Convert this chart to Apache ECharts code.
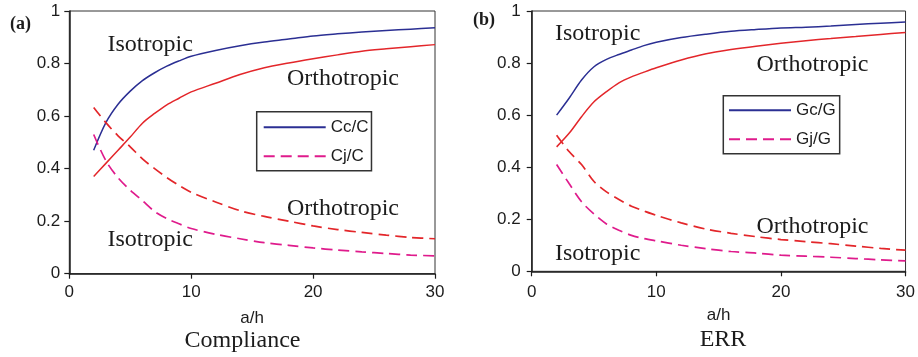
<!DOCTYPE html>
<html>
<head>
<meta charset="utf-8">
<title>Compliance and ERR ratios vs a/h</title>
<script src="https://cdn.jsdelivr.net/npm/echarts@6/dist/echarts.min.js"></script>
<style>
  html, body { margin: 0; padding: 0; background: #fff; }
  #chart { width: 918px; height: 357px; }
</style>
</head>
<body>
<div id="chart"></div>
<script>
// a/h sample positions shared by both panels
const aOverH = [2, 3, 4, 5, 6, 7, 8, 9, 10, 12, 14, 16, 18, 20, 22, 24, 26, 28, 30];

// (a) Compliance ratios
const ccIso   = [0.47, 0.575, 0.645, 0.695, 0.735, 0.765, 0.79, 0.81, 0.828, 0.85, 0.868, 0.882, 0.893, 0.905, 0.913, 0.92, 0.926, 0.931, 0.936];
const ccOrtho = [0.37, 0.42, 0.47, 0.52, 0.573, 0.61, 0.643, 0.668, 0.692, 0.725, 0.758, 0.784, 0.802, 0.818, 0.833, 0.847, 0.856, 0.864, 0.872];
const cjOrtho = [0.633, 0.575, 0.525, 0.483, 0.437, 0.40, 0.366, 0.336, 0.31, 0.273, 0.24, 0.218, 0.2, 0.182, 0.168, 0.157, 0.147, 0.138, 0.133];
const cjIso   = [0.53, 0.43, 0.365, 0.318, 0.278, 0.237, 0.21, 0.19, 0.172, 0.15, 0.133, 0.118, 0.108, 0.098, 0.09, 0.083, 0.077, 0.071, 0.068];

// (b) Energy release rate ratios
const gcIso   = [0.60, 0.665, 0.735, 0.786, 0.814, 0.833, 0.85, 0.867, 0.88, 0.898, 0.911, 0.922, 0.929, 0.935, 0.938, 0.942, 0.948, 0.953, 0.958];
const gcOrtho = [0.478, 0.53, 0.594, 0.651, 0.69, 0.724, 0.747, 0.765, 0.782, 0.812, 0.836, 0.852, 0.865, 0.876, 0.886, 0.894, 0.902, 0.91, 0.917];
const gjOrtho = [0.523, 0.46, 0.41, 0.345, 0.305, 0.276, 0.25, 0.232, 0.215, 0.186, 0.162, 0.146, 0.133, 0.122, 0.114, 0.106, 0.097, 0.088, 0.081];
const gjIso   = [0.41, 0.337, 0.267, 0.22, 0.182, 0.158, 0.138, 0.126, 0.117, 0.10, 0.087, 0.076, 0.07, 0.062, 0.058, 0.054, 0.049, 0.044, 0.04];

const BLUE = '#2b2f93';
const RED = '#e3262a';
const MAGENTA = '#df1b8c';
const INK = '#1c1c1c';
const SANS = '"Liberation Sans", Arial, sans-serif';
const SERIF = '"Liberation Serif", "Times New Roman", serif';

function pairs(ys) { return aOverH.map((x, i) => [x, ys[i]]); }

function lineSeries(name, idx, ys, color, dashed) {
  return {
    name: name,
    type: 'line',
    xAxisIndex: idx,
    yAxisIndex: idx,
    data: pairs(ys),
    showSymbol: false,
    symbol: 'none',
    smooth: 0.3,
    silent: true,
    lineStyle: { color: color, width: dashed ? 1.7 : 1.5, type: dashed ? [11, 6] : 'solid' },
    itemStyle: { color: color },
    z: 3
  };
}

function xAxisFor(idx, labelMargin) {
  return {
    type: 'value', gridIndex: idx, min: 0, max: 30, interval: 10,
    name: 'a/h', nameLocation: 'middle', nameGap: 36,
    nameTextStyle: { fontFamily: SANS, fontSize: 17, color: INK },
    axisLine: { show: true, onZero: false, lineStyle: { color: INK, width: 1.5 } },
    axisTick: { show: true, inside: false, length: 5, lineStyle: { color: INK, width: 1.2 } },
    axisLabel: { fontFamily: SANS, fontSize: 17, color: INK, margin: labelMargin },
    splitLine: { show: false }
  };
}

function yAxisFor(idx, labelMargin) {
  return {
    type: 'value', gridIndex: idx, min: 0, max: 1, interval: 0.2,
    axisLine: { show: true, lineStyle: { color: INK, width: 1.5 } },
    axisTick: { show: true, inside: false, length: 5, lineStyle: { color: INK, width: 1.2 } },
    axisLabel: { fontFamily: SANS, fontSize: 17, color: INK, margin: labelMargin },
    splitLine: { show: false }
  };
}

function legendFor(names, left, top, padding) {
  return {
    data: names,
    orient: 'vertical',
    left: left, top: top,
    padding: padding,
    itemWidth: 62, itemHeight: 14, itemGap: 12,
    selectedMode: false,
    borderColor: '#333', borderWidth: 1.5, borderRadius: 0,
    backgroundColor: '#fff',
    // only the line sample is shown for each entry
    itemStyle: { opacity: 0, color: 'rgba(0,0,0,0)', borderWidth: 0 },
    textStyle: { fontFamily: SANS, fontSize: 17, color: INK, padding: [0, 0, 0, 0] }
  };
}

function caption(text, x, y, size, bold) {
  return {
    type: 'text', silent: true, z: 10,
    style: {
      text: text, x: x, y: y, fill: INK,
      font: (bold ? 'bold ' : '') + size + 'px ' + SERIF,
      textVerticalAlign: 'middle'
    }
  };
}

function centered(text, x, y, size) {
  const g = caption(text, x, y, size, false);
  g.style.textAlign = 'center';
  return g;
}

const option = {
  animation: false,
  backgroundColor: '#fff',
  grid: [
    { left: 69.3, top: 11, width: 365.7, height: 262.7, show: true, borderColor: '#333', borderWidth: 1 },
    { left: 531.7, top: 11, width: 375, height: 260.3, show: true, borderColor: '#333', borderWidth: 1 }
  ],
  xAxis: [xAxisFor(0, 10), xAxisFor(1, 13)],
  yAxis: [yAxisFor(0, 9), yAxisFor(1, 11)],
  legend: [
    legendFor(['Cc/C', 'Cj/C'], 256.7, 111.7, [7, 3, 6, 6]),
    legendFor(['Gc/G', 'Gj/G'], 723.3, 95.7, [6, 4, 6, 4.7])
  ],
  series: [
    lineSeries('Cc/C', 0, ccIso, BLUE, false),
    lineSeries('Cc/C orthotropic', 0, ccOrtho, RED, false),
    lineSeries('Cj/C orthotropic', 0, cjOrtho, RED, true),
    lineSeries('Cj/C', 0, cjIso, MAGENTA, true),
    lineSeries('Gc/G', 1, gcIso, BLUE, false),
    lineSeries('Gc/G orthotropic', 1, gcOrtho, RED, false),
    lineSeries('Gj/G orthotropic', 1, gjOrtho, RED, true),
    lineSeries('Gj/G', 1, gjIso, MAGENTA, true)
  ],
  graphic: [
    caption('(a)', 10, 24, 18, true),
    caption('(b)', 473, 20, 18, true),
    caption('Isotropic', 107.5, 44.5, 24),
    caption('Orthotropic', 287, 79, 24),
    caption('Orthotropic', 287, 209, 24),
    caption('Isotropic', 107.5, 239.5, 24),
    caption('Isotropic', 555, 34, 24),
    caption('Orthotropic', 756.5, 65, 24),
    caption('Orthotropic', 756.5, 227, 24),
    caption('Isotropic', 555, 253.5, 24),
    centered('Compliance', 242.5, 341, 24),
    centered('ERR', 723, 340, 24)
  ]
};

const chart = echarts.init(document.getElementById('chart'), null, { renderer: 'canvas' });
chart.setOption(option);
</script>
</body>
</html>
